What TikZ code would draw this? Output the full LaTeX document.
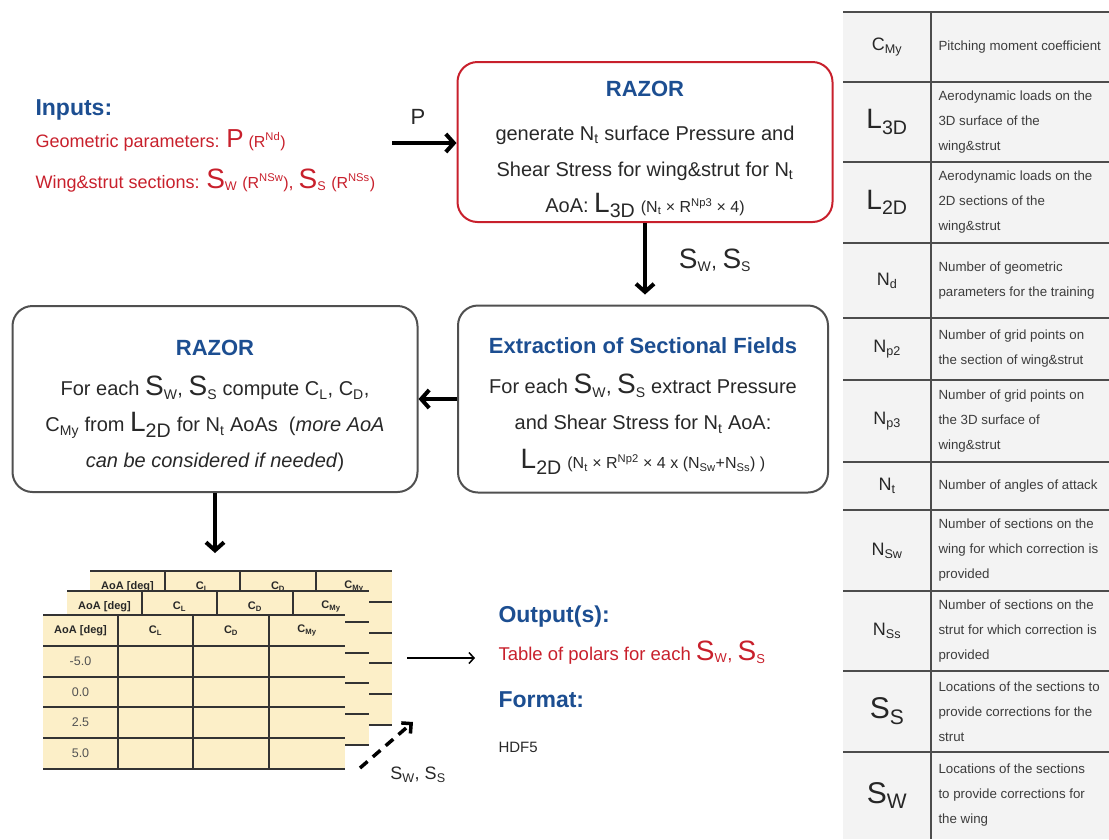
\documentclass[tikz,border=0pt]{standalone}
\usepackage{fontspec}
\setmainfont{Liberation Sans}
\usetikzlibrary{arrows.meta}

\definecolor{razblue}{RGB}{28,78,145}
\definecolor{razred}{RGB}{200,32,44}
\definecolor{txt}{RGB}{40,40,40}
\definecolor{boxgray}{RGB}{80,80,80}
\definecolor{tabfill}{RGB}{252,239,200}
\definecolor{legfill}{RGB}{243,243,243}

\newcommand{\sub}[1]{\textsubscript{#1}}
\newcommand{\up}[1]{\textsuperscript{#1}}
\newcommand{\bigS}[2]{{\fontsize{28}{28}\selectfont #1}\textsubscript{#2}}
\newcommand{\bigL}[2]{{\fontsize{28}{28}\selectfont #1\textsubscript{#2}}}
\newcommand{\sm}{\fontsize{16}{16}\selectfont}
\newcommand{\pr}{\fontsize{16}{16}\selectfont}
% the rule pushes the box text a little down
\newcommand{\boxtitle}[1]{\rule{0pt}{30pt}{\color{razblue}\bfseries\fontsize{22}{22}\selectfont #1}}

% one polar table (grid and header), shifted by (#1,#2), node names start with #3
\newcommand{\polartable}[3]{%
  \begin{scope}[shift={(#1,#2)}]
    \fill[tabfill] (43,615) rectangle (345,769);
    \foreach \y in {615,646,677,707,738,769} \draw[tabline] (43,\y) -- (345,\y);
    \foreach \x in {118,193,269} \draw[tabline] (\x,615) -- (\x,769);
    \node[tabhead] (#3h1) at (80.5,630.5) {AoA [deg]};
    \node[tabhead] (#3h2) at (155.5,630.5) {C\sub{L}};
    \node[tabhead] (#3h3) at (231,630.5) {C\sub{D}};
    \node[tabhead] (#3h4) at (307,630.5) {C\sub{My}};
  \end{scope}}

\begin{document}
\begin{tikzpicture}[x=1pt, y=-1pt,
    box/.style = {draw=boxgray, line width=2pt, rounded corners=20pt, align=center,
      inner sep=0pt, text=txt, font=\fontsize{20}{36}\selectfont},
    flow/.style = {line width=4pt, -{Straight Barb[length=8pt,width=18pt]}},
    thinflow/.style = {line width=1.5pt, -{Straight Barb[length=5pt,width=11pt]}},
    tabline/.style = {draw=black!80, line width=1.6pt},
    tabhead/.style = {text=txt, font=\bfseries\fontsize{11}{11}\selectfont},
    tabtxt/.style = {text=txt!80, font=\fontsize{12.5}{12.5}\selectfont},
    legline/.style = {draw=black!70, line width=2.4pt},
    sym/.style = {text=black!85},
    desc/.style = {anchor=west, align=left, text=txt!90, font=\fontsize{13.3}{25}\selectfont}]
\useasboundingbox (0,0) rectangle (1109,839);

% inputs
\node[anchor=base west, text=razblue, font=\bfseries\fontsize{23}{23}\selectfont] (in) at (32,115) {Inputs:};
\node[anchor=base west, text=razred, font=\fontsize{18}{18}\selectfont] (g) at (32,147)
  {Geometric parameters: {\fontsize{26}{26}\selectfont P} {\pr(R\up{Nd})}};
\node[anchor=base west, text=razred, font=\fontsize{18}{18}\selectfont] (w) at (32,188)
  {Wing\&strut sections: \bigS{S}{W} {\pr(R\up{NSw})}, \bigS{S}{S} {\pr(R\up{NSs})}};
\coordinate (p0) at (392,143);

% processing boxes
\node[box, draw=razred, minimum width=375pt, minimum height=160pt] (1) at (645,142)
  {\boxtitle{RAZOR}\\[8pt]
   generate N\sub{t} surface Pressure and\\
   Shear Stress for wing\&strut for N\sub{t}\\
   AoA: \bigL{L}{3D} {\sm(N\sub{t} × R\up{Np3} × 4)}};
\node[box, minimum width=370pt, minimum height=187pt] (2) at (643,399)
  {\boxtitle{Extraction of Sectional Fields}\\[4pt]
   For each \bigS{S}{W}, \bigS{S}{S} extract Pressure\\
   and Shear Stress for N\sub{t} AoA:\\[3pt]
   \bigL{L}{2D} {\sm(N\sub{t} × R\up{Np2} × 4 x (N\sub{Sw}+N\sub{Ss}) )}};
\node[box, minimum width=405pt, minimum height=186pt] (3) at (215,399)
  {\boxtitle{RAZOR}\\[4pt]
   For each \bigS{S}{W}, \bigS{S}{S} compute C\sub{L}, C\sub{D},\\
   C\sub{My} from \bigL{L}{2D} for N\sub{t} AoAs\ \ (\textit{more AoA}\\
   \textit{can be considered if needed})};

\node[font=\fontsize{22}{22}\selectfont, text=txt] (p) at (418,117) {P};
\node[font=\fontsize{20}{20}\selectfont, text=txt] (a) at (715,260) {\bigS{S}{W}, \bigS{S}{S}};

\draw[flow] (p0) -- (p0 -| 1.west);
\draw[flow, shorten >=10pt] (1.south) -- (1.south |- 2.north);
\draw[flow] (2.west) -- (3.east);

% stack of polar tables, back to front
\polartable{47}{-44}{c}
\polartable{24}{-24}{b}
\polartable{0}{0}{a}
\node[tabtxt] (r1) at (80.5,661.5) {-5.0};
\node[tabtxt] (r2) at (80.5,692) {0.0};
\node[tabtxt] (r3) at (80.5,722.5) {2.5};
\node[tabtxt] (r4) at (80.5,753.5) {5.0};
\coordinate (t) at (213,571);
\draw[flow, shorten >=18pt] (3.south) -- (3.south |- t);

% outputs
\node[anchor=base west, text=razblue, font=\bfseries\fontsize{23}{23}\selectfont] (out) at (495,622) {Output(s):};
\node[anchor=base west, text=razred, font=\fontsize{18.5}{18.5}\selectfont] (f) at (495,660)
  {Table of polars for each \bigS{S}{W}, \bigS{S}{S}};
\node[anchor=base west, text=razblue, font=\bfseries\fontsize{23}{23}\selectfont] (fmt) at (495,707) {Format:};
\node[anchor=base west, text=txt, font=\fontsize{15}{15}\selectfont] (h) at (495,752) {HDF5};
\coordinate (s) at (407,658);
\draw[thinflow, shorten >=20pt] (s) -- (s -| f.west);

\node[font=\fontsize{18}{18}\selectfont, text=txt] (b) at (418,775) {S\sub{W}, S\sub{S}};
\coordinate (d0) at (360,768);
\coordinate (d1) at (413,722);
\draw[line width=3.5pt, dash pattern=on 10pt off 7pt, -{Straight Barb[length=7pt,width=14pt]}] (d0) -- (d1);

% symbol table
\fill[legfill] (843,12) rectangle (1109,839);
\foreach \y in {12,82,162,243,318,380,462,510,591,671,752} \draw[legline] (843,\y) -- (1109,\y);
\draw[legline] (931,12) -- (931,839);

\node[sym, font=\fontsize{18}{18}\selectfont] (s1) at (887,47) {C\sub{My}};
\node[sym, font=\fontsize{28}{28}\selectfont] (s2) at (887,122) {L\sub{3D}};
\node[sym, font=\fontsize{28}{28}\selectfont] (s3) at (887,202.5) {L\sub{2D}};
\node[sym, font=\fontsize{18}{18}\selectfont] (s4) at (887,280.5) {N\sub{d}};
\node[sym, font=\fontsize{18}{18}\selectfont] (s5) at (887,349) {N\sub{p2}};
\node[sym, font=\fontsize{18}{18}\selectfont] (s6) at (887,421) {N\sub{p3}};
\node[sym, font=\fontsize{18}{18}\selectfont] (s7) at (887,486) {N\sub{t}};
\node[sym, font=\fontsize{18}{18}\selectfont] (s8) at (887,550.5) {N\sub{Sw}};
\node[sym, font=\fontsize{18}{18}\selectfont] (s9) at (887,631) {N\sub{Ss}};
\node[sym, font=\fontsize{30}{30}\selectfont] (s10) at (887,711.5) {S\sub{S}};
\node[sym, font=\fontsize{30}{30}\selectfont] (s11) at (887,795.5) {S\sub{W}};

\node[desc] (e1) at (935,47) {Pitching moment coefficient};
\node[desc] (e2) at (935,122) {Aerodynamic loads on the\\3D surface of the\\wing\&strut};
\node[desc] (e3) at (935,202.5) {Aerodynamic loads on the\\2D sections of the\\wing\&strut};
\node[desc] (e4) at (935,280.5) {Number of geometric\\parameters for the training};
\node[desc] (e5) at (935,349) {Number of grid points on\\the section of wing\&strut};
\node[desc] (e6) at (935,421) {Number of grid points on\\the 3D surface of\\wing\&strut};
\node[desc] (e7) at (935,486) {Number of angles of attack};
\node[desc] (e8) at (935,550.5) {Number of sections on the\\wing for which correction is\\provided};
\node[desc] (e9) at (935,631) {Number of sections on the\\strut for which correction is\\provided};
\node[desc] (e10) at (935,711.5) {Locations of the sections to\\provide corrections for the\\strut};
\node[desc] (e11) at (935,795.5) {Locations of the sections\\to provide corrections for\\the wing};
\end{tikzpicture}
\end{document}
